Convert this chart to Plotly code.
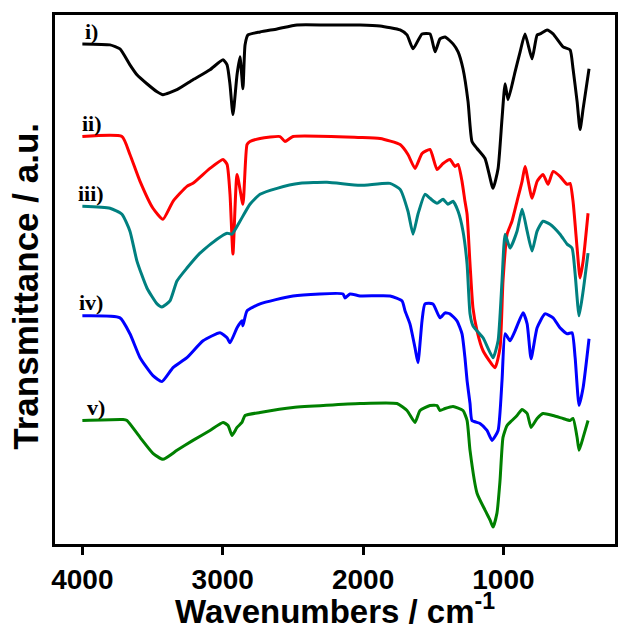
import plotly.graph_objects as go

# ---------------- data (wavenumber cm^-1, transmittance a.u. with offsets) ----------------
wn_i = [4000, 3803, 3732, 3661, 3611, 3540, 3468, 3426, 3326, 3212, 3091, 2998, 2969, 2948, 2927,
        2898, 2877, 2856, 2841, 2820, 2734, 2613, 2471, 2257, 2021, 1879, 1736, 1687, 1644, 1580,
        1523, 1487, 1452, 1416, 1359, 1323, 1288, 1252, 1224, 1188, 1131, 1074, 1038, 1010, 988,
        967, 917, 881, 846, 796, 760, 739, 689, 646, 575, 525, 504, 475, 454, 432, 390]
t_i = [508, 507, 503, 487, 477, 468, 460, 457, 462, 472, 482, 492, 487, 467, 437,
       477, 495, 463, 507, 517, 520, 523, 527, 527, 527, 526, 522, 517, 503, 518,
       518, 500, 513, 515, 508, 500, 483, 450, 410, 403, 393, 363, 383, 433, 468,
       452, 480, 500, 518, 493, 517, 518, 522, 518, 505, 502, 483, 450, 422, 443, 483]

wn_ii = [4000, 3718, 3661, 3589, 3497, 3426, 3354, 3255, 3212, 3091, 2998, 2969, 2948, 2927, 2898,
         2856, 2827, 2806, 2734, 2592, 2556, 2499, 2021, 1879, 1736, 1680, 1630, 1580, 1523, 1473,
         1430, 1381, 1345, 1323, 1295, 1274, 1259, 1238, 1217, 1188, 1145, 1060, 1024, 1003, 974,
         939, 903, 867, 846, 796, 760, 718, 682, 646, 597, 546, 525, 504, 475, 454, 432, 397]
t_ii = [415, 415, 397, 370, 343, 332, 350, 365, 368, 383, 392, 387, 357, 297, 377,
        347, 407, 410, 413, 415, 410, 415, 414, 413, 407, 397, 383, 398, 402, 382,
        388, 392, 385, 387, 370, 350, 337, 287, 243, 220, 200, 183, 203, 270, 317,
        330, 350, 370, 385, 353, 370, 377, 367, 380, 375, 367, 368, 350, 303, 273, 290, 338]

wn_iii = [4000, 3803, 3718, 3661, 3611, 3540, 3468, 3433, 3376, 3326, 3255, 3162, 3041, 2969, 2934,
          2877, 2806, 2734, 2613, 2449, 2257, 2021, 1808, 1736, 1680, 1644, 1609, 1559, 1523, 1473,
          1430, 1395, 1359, 1323, 1288, 1259, 1238, 1217, 1145, 1074, 1038, 1010, 988, 953, 903,
          867, 831, 796, 760, 718, 668, 597, 546, 511, 489, 461, 432, 397]
t_iii = [345, 343, 337, 320, 290, 263, 247, 244, 250, 270, 283, 298, 312, 318, 317,
         330, 347, 357, 363, 368, 369, 366, 368, 362, 340, 317, 337, 357, 353, 348,
         352, 347, 350, 340, 320, 287, 237, 225, 213, 193, 210, 270, 317, 303, 320,
         342, 320, 300, 320, 330, 327, 317, 307, 303, 277, 235, 260, 298]

wn_iv = [4000, 3732, 3661, 3589, 3497, 3433, 3354, 3255, 3140, 3019, 2969, 2948, 2898, 2863, 2856,
         2827, 2734, 2499, 2143, 2129, 2093, 2021, 1808, 1722, 1701, 1666, 1630, 1609, 1580, 1559,
         1502, 1452, 1416, 1381, 1331, 1295, 1274, 1259, 1238, 1224, 1167, 1117, 1081, 1038, 1010,
         988, 953, 917, 860, 831, 803, 760, 704, 646, 597, 546, 511, 489, 461, 432, 390]
t_iv = [235, 233, 217, 193, 175, 169, 183, 193, 210, 218, 213, 208, 223, 230, 225,
        240, 247, 255, 257, 253, 257, 255, 255, 250, 240, 227, 203, 188, 230, 247,
        247, 233, 238, 237, 230, 217, 193, 170, 147, 130, 127, 120, 110, 120, 170,
        217, 210, 220, 238, 227, 192, 223, 237, 233, 223, 217, 218, 193, 145, 163, 212]

wn_v = [4000, 3710, 3682, 3589, 3497, 3426, 3326, 3212, 3091, 2998, 2962, 2934, 2898, 2863, 2841,
        2734, 2499, 2021, 1758, 1687, 1630, 1594, 1523, 1473, 1452, 1416, 1359, 1288, 1259, 1238,
        1188, 1131, 1095, 1074, 1046, 1024, 1003, 974, 939, 903, 867, 831, 803, 760, 718,
        646, 575, 525, 504, 475, 461, 432, 397]
t_v = [130, 131, 130, 113, 97, 91, 100, 110, 120, 128, 125, 115, 123, 128, 135,
       138, 143, 147, 147, 140, 128, 140, 145, 145, 140, 142, 144, 140, 130, 100,
       57, 40, 30, 23, 37, 70, 113, 125, 130, 135, 141, 137, 123, 132, 137,
       135, 132, 130, 132, 113, 100, 113, 130]

series = [
    ("i)", wn_i, t_i, "#000000", 3938, 520),
    ("ii)", wn_ii, t_ii, "#ff0000", 3931, 428),
    ("iii)", wn_iii, t_iii, "#008080", 3938, 358),
    ("iv)", wn_iv, t_iv, "#0000ff", 3938, 248),
    ("v)", wn_v, t_v, "#008000", 3903, 143),
]
x_ticks = [4000, 3000, 2000, 1000]

fig = go.Figure()
annotations = []
for name, xs, ys, col, lx, ly in series:
    fig.add_trace(go.Scatter(x=xs, y=ys, mode="lines", name=name,
                             line=dict(color=col, width=3, shape="spline", smoothing=0.5),
                             showlegend=False))
    annotations.append(dict(x=lx, y=ly, xref="x", yref="y", text="<b>" + name + "</b>",
                            showarrow=False, font=dict(family="Liberation Serif", size=22, color="black"),
                            xanchor="center", yanchor="middle"))

annotations.append(dict(x=0.5, y=-0.166, xref="paper", yref="paper",
                        text="<b>Wavenumbers / cm<sup>-1</sup></b>", showarrow=False,
                        font=dict(family="Liberation Sans", size=33, color="black"),
                        xanchor="center", yanchor="bottom"))
annotations.append(dict(x=-0.052, y=0.488, xref="paper", yref="paper",
                        text="<b>Transmittance / a.u.</b>", showarrow=False, textangle=-90,
                        font=dict(family="Liberation Sans", size=35, color="black"),
                        xanchor="center", yanchor="middle"))

fig.update_layout(
    width=632, height=632,
    margin=dict(l=55, r=17, t=13, b=88),
    paper_bgcolor="white", plot_bgcolor="white",
    annotations=annotations,
    xaxis=dict(range=[4195, 205], tickvals=x_ticks, ticktext=[str(v) for v in x_ticks],
               ticks="outside", ticklen=8, tickwidth=2.5, tickcolor="black",
               showline=True, linewidth=3, linecolor="black", mirror=True,
               showgrid=False, zeroline=False,
               tickfont=dict(family="Liberation Sans", size=28, color="black", weight="bold")),
    yaxis=dict(range=[6, 537], showticklabels=False, ticks="",
               showline=True, linewidth=3, linecolor="black", mirror=True,
               showgrid=False, zeroline=False),
)

fig.write_html("out.html", config={"displayModeBar": False},
               post_script="document.body.style.margin='0';document.body.style.padding='0';")
